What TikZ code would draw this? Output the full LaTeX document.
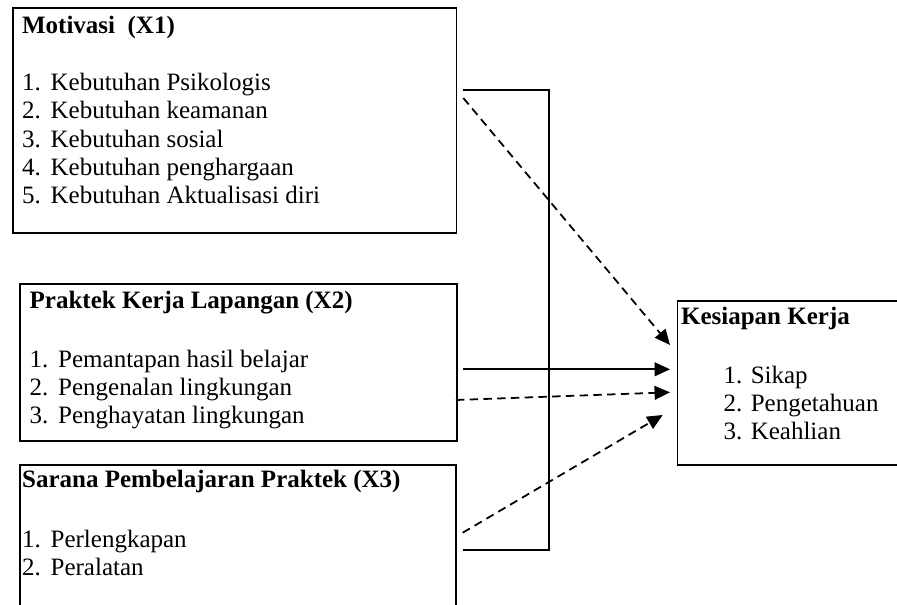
\documentclass[tikz,border=0pt]{standalone}
\usepackage{fontspec}
\setmainfont{Liberation Serif}
\usetikzlibrary{arrows.meta}
\newcommand{\itm}[2]{\makebox[13.7pt][l]{#1}#2}

\begin{document}
\begin{tikzpicture}[x=0.48pt,y=-0.48pt,
  every node/.style={inner sep=0pt, anchor=base west, font=\fontsize{12}{14}\selectfont},
  title/.style={font=\fontsize{12}{14}\selectfont\bfseries},
  boxline/.style={line width=0.9pt},
  solidarrow/.style={line width=0.85pt, -{Triangle[length=7.4pt,width=6.6pt]}},
  dasharrow/.style={solidarrow, dash pattern=on 4pt off 2.6pt}]
  \useasboundingbox (0,0) rectangle (897,605);
  % kotak X1
  \draw[boxline] (12.7,8.3) rectangle (456.5,233.3);
  \node[title] (x1) at (21.7,33.3) {Motivasi\ \ (X1)};
  \node (x1a) at (21.7,90.7) {\itm{1.}{Kebutuhan Psikologis}};
  \node (x1b) at (21.7,119) {\itm{2.}{Kebutuhan keamanan}};
  \node (x1c) at (21.7,147.3) {\itm{3.}{Kebutuhan sosial}};
  \node (x1d) at (21.7,175.6) {\itm{4.}{Kebutuhan penghargaan}};
  \node (x1e) at (21.7,204) {\itm{5.}{Kebutuhan Aktualisasi diri}};
  % kotak X2
  \draw[boxline] (20,284) rectangle (457,440.7);
  \node[title] (x2) at (29.3,308.3) {Praktek Kerja Lapangan (X2)};
  \node (x2a) at (29.3,368) {\itm{1.}{Pemantapan hasil belajar}};
  \node (x2b) at (29.3,396) {\itm{2.}{Pengenalan lingkungan}};
  \node (x2c) at (29.3,424) {\itm{3.}{Penghayatan lingkungan}};
  % kotak X3
  \draw[boxline] (20,612) -- (20,465) -- (456,465) -- (456,612);
  \node[title] (x3) at (21.7,488) {Sarana Pembelajaran Praktek (X3)};
  \node (x3a) at (21.7,547.5) {\itm{1.}{Perlengkapan}};
  \node (x3b) at (21.7,576) {\itm{2.}{Peralatan}};
  % kotak Y
  \draw[boxline] (677.5,300.7) rectangle (899.5,465);
  \node[title] (y) at (680.7,325) {Kesiapan Kerja};
  \node (ya) at (723.3,383.3) {1. Sikap};
  \node (yb) at (723.3,411.7) {2. Pengetahuan};
  \node (yc) at (723.3,440) {3. Keahlian};
  % kurung simultan
  \coordinate (brtop) at (463.3,90);
  \coordinate (brbot) at (463.3,550);
  \draw[boxline] (brtop) -- (549.3,90) |- (brbot);
  % panah
  \coordinate (s1) at (463.3,98);
  \coordinate (e1) at (670,345);
  \coordinate (s2) at (463.3,369.3);
  \coordinate (e2) at (670,369.3);
  \coordinate (s3) at (456,400);
  \coordinate (e3) at (670,392.3);
  \coordinate (s4) at (462.7,532.7);
  \coordinate (e4) at (662.7,415);
  \draw[dasharrow] (s1) -- (e1);
  \draw[solidarrow] (s2) -- (e2);
  \draw[dasharrow] (s3) -- (e3);
  \draw[dasharrow] (s4) -- (e4);
\end{tikzpicture}
\end{document}
